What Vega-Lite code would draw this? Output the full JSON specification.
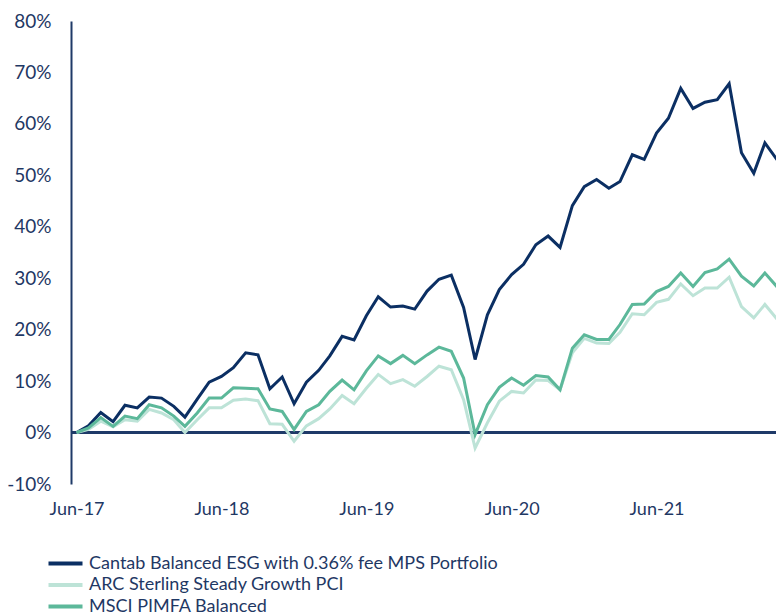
{
  "$schema": "https://vega.github.io/schema/vega-lite/v6.json",
  "width": 705,
  "height": 463,
  "autosize": {"type": "none"},
  "padding": {"left": 71, "top": 21, "right": 0, "bottom": 130},
  "background": "white",
  "config": {"view": {"stroke": null}, "font": "Lato"},
  "data": {"values": [
    {"month": "2017/06/01", "Cantab": 0, "ARC": 0, "MSCI": 0},
    {"month": "2017/07/01", "Cantab": 1.3, "ARC": 0.6, "MSCI": 0.9},
    {"month": "2017/08/01", "Cantab": 3.9, "ARC": 2.2, "MSCI": 2.9},
    {"month": "2017/09/01", "Cantab": 2.1, "ARC": 1.1, "MSCI": 1.2},
    {"month": "2017/10/01", "Cantab": 5.3, "ARC": 2.5, "MSCI": 3.2},
    {"month": "2017/11/01", "Cantab": 4.8, "ARC": 2.2, "MSCI": 2.7},
    {"month": "2017/12/01", "Cantab": 6.9, "ARC": 4.5, "MSCI": 5.4},
    {"month": "2018/01/01", "Cantab": 6.7, "ARC": 3.8, "MSCI": 4.8},
    {"month": "2018/02/01", "Cantab": 5.1, "ARC": 2.5, "MSCI": 3.2},
    {"month": "2018/03/01", "Cantab": 3.0, "ARC": 0.0, "MSCI": 1.2},
    {"month": "2018/04/01", "Cantab": 6.5, "ARC": 2.5, "MSCI": 3.8},
    {"month": "2018/05/01", "Cantab": 9.8, "ARC": 4.8, "MSCI": 6.7},
    {"month": "2018/06/01", "Cantab": 10.9, "ARC": 4.8, "MSCI": 6.7},
    {"month": "2018/07/01", "Cantab": 12.6, "ARC": 6.3, "MSCI": 8.7},
    {"month": "2018/08/01", "Cantab": 15.5, "ARC": 6.5, "MSCI": 8.6},
    {"month": "2018/09/01", "Cantab": 15.1, "ARC": 6.2, "MSCI": 8.5},
    {"month": "2018/10/01", "Cantab": 8.5, "ARC": 1.7, "MSCI": 4.6},
    {"month": "2018/11/01", "Cantab": 10.8, "ARC": 1.6, "MSCI": 4.1},
    {"month": "2018/12/01", "Cantab": 5.6, "ARC": -1.7, "MSCI": 0.6},
    {"month": "2019/01/01", "Cantab": 9.8, "ARC": 1.3, "MSCI": 4.1},
    {"month": "2019/02/01", "Cantab": 12.1, "ARC": 2.7, "MSCI": 5.4},
    {"month": "2019/03/01", "Cantab": 14.9, "ARC": 4.6, "MSCI": 8.0},
    {"month": "2019/04/01", "Cantab": 18.7, "ARC": 7.2, "MSCI": 10.2},
    {"month": "2019/05/01", "Cantab": 18.0, "ARC": 5.6, "MSCI": 8.3},
    {"month": "2019/06/01", "Cantab": 22.7, "ARC": 8.6, "MSCI": 12.0},
    {"month": "2019/07/01", "Cantab": 26.4, "ARC": 11.3, "MSCI": 14.9},
    {"month": "2019/08/01", "Cantab": 24.4, "ARC": 9.5, "MSCI": 13.4},
    {"month": "2019/09/01", "Cantab": 24.6, "ARC": 10.3, "MSCI": 15.0},
    {"month": "2019/10/01", "Cantab": 24.0, "ARC": 9.0, "MSCI": 13.4},
    {"month": "2019/11/01", "Cantab": 27.5, "ARC": 10.9, "MSCI": 15.1},
    {"month": "2019/12/01", "Cantab": 29.8, "ARC": 12.9, "MSCI": 16.6},
    {"month": "2020/01/01", "Cantab": 30.6, "ARC": 12.2, "MSCI": 15.8},
    {"month": "2020/02/01", "Cantab": 24.3, "ARC": 6.4, "MSCI": 10.6},
    {"month": "2020/03/01", "Cantab": 14.2, "ARC": -3.0, "MSCI": -0.4},
    {"month": "2020/04/01", "Cantab": 22.9, "ARC": 1.9, "MSCI": 5.4},
    {"month": "2020/05/01", "Cantab": 27.8, "ARC": 6.1, "MSCI": 8.8},
    {"month": "2020/06/01", "Cantab": 30.7, "ARC": 8.0, "MSCI": 10.6},
    {"month": "2020/07/01", "Cantab": 32.7, "ARC": 7.7, "MSCI": 9.2},
    {"month": "2020/08/01", "Cantab": 36.5, "ARC": 10.2, "MSCI": 11.1},
    {"month": "2020/09/01", "Cantab": 38.2, "ARC": 10.1, "MSCI": 10.8},
    {"month": "2020/10/01", "Cantab": 36.0, "ARC": 8.3, "MSCI": 8.3},
    {"month": "2020/11/01", "Cantab": 44.1, "ARC": 15.5, "MSCI": 16.4},
    {"month": "2020/12/01", "Cantab": 47.8, "ARC": 18.3, "MSCI": 19.0},
    {"month": "2021/01/01", "Cantab": 49.2, "ARC": 17.4, "MSCI": 18.1},
    {"month": "2021/02/01", "Cantab": 47.5, "ARC": 17.3, "MSCI": 18.1},
    {"month": "2021/03/01", "Cantab": 48.8, "ARC": 19.5, "MSCI": 21.0},
    {"month": "2021/04/01", "Cantab": 54.0, "ARC": 23.1, "MSCI": 24.9},
    {"month": "2021/05/01", "Cantab": 53.1, "ARC": 22.9, "MSCI": 25.0},
    {"month": "2021/06/01", "Cantab": 58.2, "ARC": 25.3, "MSCI": 27.4},
    {"month": "2021/07/01", "Cantab": 61.1, "ARC": 25.9, "MSCI": 28.4},
    {"month": "2021/08/01", "Cantab": 66.9, "ARC": 28.9, "MSCI": 31.0},
    {"month": "2021/09/01", "Cantab": 63.0, "ARC": 26.6, "MSCI": 28.4},
    {"month": "2021/10/01", "Cantab": 64.2, "ARC": 28.1, "MSCI": 31.1},
    {"month": "2021/11/01", "Cantab": 64.7, "ARC": 28.1, "MSCI": 31.8},
    {"month": "2021/12/01", "Cantab": 67.8, "ARC": 30.2, "MSCI": 33.7},
    {"month": "2022/01/01", "Cantab": 54.4, "ARC": 24.5, "MSCI": 30.4},
    {"month": "2022/02/01", "Cantab": 50.4, "ARC": 22.3, "MSCI": 28.5},
    {"month": "2022/03/01", "Cantab": 56.3, "ARC": 24.9, "MSCI": 31.0},
    {"month": "2022/04/01", "Cantab": 53.0, "ARC": 22.0, "MSCI": 28.3}
  ]},
  "transform": [{"fold": ["Cantab", "ARC", "MSCI"], "as": ["series", "value"]}],
  "layer": [
    {
      "mark": {"type": "rule", "color": "#1f3a68", "strokeWidth": 2},
      "encoding": {"y": {"datum": 0, "type": "quantitative"}}
    },
    {
      "mark": {"type": "line", "strokeWidth": 3, "clip": true},
      "encoding": {
        "x": {
          "field": "month", "type": "temporal",
          "scale": {"domain": [{"year": 2017, "month": 5, "date": 18}, {"year": 2022, "month": 3, "date": 29}]},
          "axis": {
            "title": null, "format": "%b-%y", "domain": false, "ticks": false, "grid": false,
            "values": [{"year": 2017, "month": 6, "date": 1}, {"year": 2018, "month": 6, "date": 1}, {"year": 2019, "month": 6, "date": 1}, {"year": 2020, "month": 6, "date": 1}, {"year": 2021, "month": 6, "date": 1}],
            "labelFontSize": 18, "labelColor": "#1f3864", "labelPadding": 16
          }
        },
        "y": {
          "field": "value", "type": "quantitative",
          "scale": {"domain": [-10, 80], "nice": false},
          "axis": {
            "title": null, "values": [-10, 0, 10, 20, 30, 40, 50, 60, 70, 80],
            "labelExpr": "datum.value + '%'", "labelFontSize": 19, "labelColor": "#1f3864",
            "ticks": false, "labelPadding": 20, "domainColor": "#1f3a68", "domainWidth": 2,
            "gridColor": "#d9d9d9", "gridWidth": 2
          }
        },
        "color": {
          "field": "series", "type": "nominal",
          "scale": {"domain": ["Cantab", "ARC", "MSCI"], "range": ["#0b2f63", "#bde3d7", "#5cb89a"]},
          "legend": {
            "title": null, "orient": "none", "legendX": -16, "legendY": 532,
            "symbolType": "M-2,0H2", "symbolSize": 289, "symbolStrokeWidth": 4,
            "labelFontSize": 18, "labelColor": "#1f3864", "labelOffset": 13, "labelLimit": 0,
            "rowPadding": 1.5,
            "labelExpr": "datum.value == 'Cantab' ? 'Cantab Balanced ESG with 0.36% fee MPS Portfolio' : datum.value == 'ARC' ? 'ARC Sterling Steady Growth PCI' : 'MSCI PIMFA Balanced'"
          }
        }
      }
    }
  ]
}
